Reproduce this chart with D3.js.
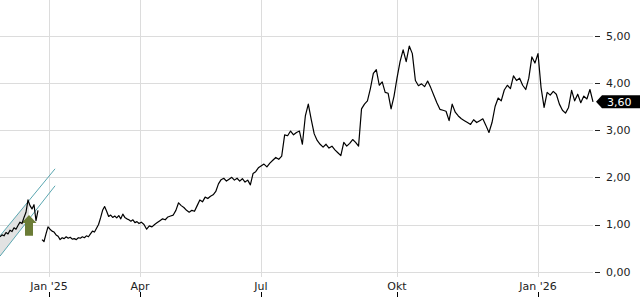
<!DOCTYPE html>
<html>
<head>
<meta charset="utf-8">
<script src="https://cdn.jsdelivr.net/npm/d3@7"></script>
<style>
  html, body { margin: 0; padding: 0; background: #fff; }
  svg { display: block; font-family: "DejaVu Sans", sans-serif; }
</style>
</head>
<body>
<div id="chart"></div>
<script>
// Price history, one quote every 2 days from 13 Nov 2024 (null = no quote)
const startDate = '2024-11-13';
const stepDays = 2;

const pricesLate2024 = [0.74, 0.78, 0.76, 0.83, 0.80, 0.88, 0.85, 0.93, 0.90, 0.98,
  1.05, 1.02, 1.15, 1.26, 1.52, 1.40, 1.33, 1.42, 1.08, 1.30,
  null, 0.68, 0.64, 0.80, 0.95];
const pricesQ1 = [0.90, 0.86, 0.84, 0.78, 0.75, 0.68, 0.72, 0.70, 0.74, 0.71,
  0.73, 0.69, 0.70, 0.68, 0.72, 0.71, 0.74, 0.72, 0.76, 0.74,
  0.80, 0.86, 0.84, 0.92, 1.00, 1.14, 1.30, 1.38, 1.28, 1.17,
  1.20, 1.15, 1.18, 1.14, 1.19, 1.12, 1.22, 1.15, 1.12, 1.10,
  1.07, 1.10, 1.04, 1.06, 1.02];
const pricesQ2 = [1.05, 1.00, 0.90, 0.97, 0.95, 1.00, 1.04, 1.08, 1.12, 1.10,
  1.16, 1.18, 1.20, 1.30, 1.46, 1.40, 1.36, 1.30, 1.26, 1.30,
  1.28, 1.40, 1.52, 1.48, 1.58, 1.55, 1.60, 1.63, 1.70, 1.86,
  1.95, 1.98, 1.92, 1.96, 2.00, 1.94, 1.98, 1.92, 1.97, 1.90,
  1.94, 1.84, 2.08, 2.12, 2.20];
const pricesQ3 = [2.24, 2.28, 2.22, 2.30, 2.36, 2.42, 2.38, 2.45, 2.90, 2.88,
  2.98, 2.90, 2.95, 2.98, 2.70, 3.30, 3.55, 3.22, 2.92, 2.78,
  2.70, 2.64, 2.70, 2.62, 2.66, 2.58, 2.52, 2.46, 2.74, 2.66,
  2.72, 2.80, 2.74, 2.66, 3.45, 3.55, 3.62, 3.88, 4.20, 4.28,
  3.95, 4.02, 3.80, 3.78, 3.45, 3.72];
const pricesQ4 = [4.10, 4.45, 4.70, 4.45, 4.78, 4.62, 4.05, 3.94, 3.98, 3.92,
  4.04, 3.90, 3.74, 3.58, 3.44, 3.42, 3.40, 3.20, 3.55, 3.38,
  3.30, 3.24, 3.20, 3.16, 3.12, 3.22, 3.16, 3.20, 3.24, 3.10,
  2.95, 3.16, 3.50, 3.68, 3.62, 3.85, 3.95, 3.88, 4.15, 4.05,
  4.10, 3.95, 3.86, 4.10, 4.55, 4.42];
const pricesEarly2026 = [4.62, 3.90, 3.48, 3.80, 3.74, 3.82, 3.76, 3.55, 3.42, 3.36,
  3.48, 3.84, 3.62, 3.76, 3.58, 3.72, 3.66, 3.86, 3.60];

const monthTicks = ['2025-01-01', '2025-04-01', '2025-07-01', '2025-10-01', '2026-01-01'];
const monthLabels = ["Jan '25", 'Apr', 'Jul', 'Okt', "Jan '26"];
const priceTicks = [0, 1, 2, 3, 4, 5];
const lastPrice = 3.60;

// trend channel drawn on the chart
const channelUpper = [['2024-11-13', 0.76], ['2025-01-07', 2.18]];
const channelLower = [['2024-11-13', 0.33], ['2025-01-07', 1.82]];
const channelFillEnd = '2024-12-12';
const signalDate = '2024-12-12';
const signalFrom = 0.76;
const signalTo = 1.20;

const width = 640;
const height = 300;
const plotRight = 593;

const parse = d3.utcParse('%Y-%m-%d');
const allPrices = [].concat(pricesLate2024, pricesQ1, pricesQ2, pricesQ3, pricesQ4, pricesEarly2026);
const series = allPrices.map((v, i) => ({
  date: d3.utcDay.offset(parse(startDate), i * stepDays),
  value: v
}));

// time axis is not evenly spaced in the source, so map each quarter separately
const x = d3.scaleUtc()
  .domain([parse(startDate), ...monthTicks.map(parse), series[series.length - 1].date])
  .range([0, 49, 140, 261, 397, 538, plotRight]);

const y = d3.scaleLinear().domain([0, 5]).range([271.7, 35.7]);

const de = d3.formatLocale({ decimal: ',', thousands: '.', grouping: [3], currency: ['', ' €'] });
const fmt = de.format('.2f');

const svg = d3.select('#chart').append('svg')
  .attr('width', width)
  .attr('height', height);

// grid
const grid = svg.append('g').attr('stroke', '#dcdcdc').attr('stroke-width', 1);
grid.selectAll('.hgrid')
  .data(priceTicks)
  .enter().append('line')
  .attr('x1', 0)
  .attr('x2', plotRight)
  .attr('y1', d => Math.round(y(d)) + 0.5)
  .attr('y2', d => Math.round(y(d)) + 0.5);
grid.selectAll('.vgrid')
  .data(monthTicks)
  .enter().append('line')
  .attr('x1', d => Math.round(x(parse(d))) + 0.5)
  .attr('x2', d => Math.round(x(parse(d))) + 0.5)
  .attr('y1', 0)
  .attr('y2', 277);

// channel
const chanUp = channelUpper.map(d => [parse(d[0]), d[1]]);
const chanLo = channelLower.map(d => [parse(d[0]), d[1]]);
const lerp = (pts, t) => {
  const k = (t - pts[0][0]) / (pts[1][0] - pts[0][0]);
  return pts[0][1] + k * (pts[1][1] - pts[0][1]);
};
const fillDates = [parse(startDate), parse(channelFillEnd)];
svg.append('path')
  .datum(fillDates)
  .attr('fill', '#e2e2e2')
  .attr('d', d3.area()
    .x(d => x(d))
    .y0(d => y(lerp(chanLo, d)))
    .y1(d => y(lerp(chanUp, d))));

svg.selectAll('.channel')
  .data([chanUp, chanLo])
  .enter().append('path')
  .attr('fill', 'none')
  .attr('stroke', '#5aa6b0')
  .attr('stroke-width', 1)
  .attr('d', d3.line().x(d => x(d[0])).y(d => y(d[1])));

// buy signal arrow
const ax = x(parse(signalDate));
const aTop = y(signalTo);
const aBot = y(signalFrom);
const headH = 8;
svg.append('path')
  .attr('fill', '#6b7c36')
  .attr('d', `M${ax - 4},${aBot} L${ax - 4},${aTop + headH} L${ax - 7.5},${aTop + headH}
    L${ax},${aTop} L${ax + 7.5},${aTop + headH} L${ax + 4},${aTop + headH} L${ax + 4},${aBot} Z`);

// price line
svg.append('path')
  .datum(series)
  .attr('fill', 'none')
  .attr('stroke', '#000')
  .attr('stroke-width', 1.2)
  .attr('stroke-linejoin', 'round')
  .attr('d', d3.line()
    .defined(d => d.value != null)
    .x(d => x(d.date))
    .y(d => y(d.value)));

// right axis
const yAxis = svg.append('g').attr('fill', '#222').attr('font-size', 11);
yAxis.selectAll('.tick')
  .data(priceTicks)
  .enter().append('line')
  .attr('x1', 595)
  .attr('x2', 600)
  .attr('y1', d => Math.round(y(d)) + 0.5)
  .attr('y2', d => Math.round(y(d)) + 0.5)
  .attr('stroke', '#222');
yAxis.selectAll('text')
  .data(priceTicks)
  .enter().append('text')
  .attr('x', 606)
  .attr('y', d => y(d))
  .attr('dy', '0.36em')
  .text(d => fmt(d));

// bottom axis
const xAxis = svg.append('g').attr('fill', '#222').attr('font-size', 11);
xAxis.selectAll('text')
  .data(monthTicks)
  .enter().append('text')
  .attr('x', d => x(parse(d)))
  .attr('y', 290)
  .attr('text-anchor', 'middle')
  .text((d, i) => monthLabels[i]);
xAxis.selectAll('line')
  .data(monthTicks)
  .enter().append('line')
  .attr('x1', d => Math.round(x(parse(d))) + 0.5)
  .attr('x2', d => Math.round(x(parse(d))) + 0.5)
  .attr('y1', 292)
  .attr('y2', 297)
  .attr('stroke', '#000');

// last price marker
const ly = y(lastPrice);
svg.append('path')
  .attr('fill', '#000')
  .attr('d', `M596,${ly} L602,${ly - 6.5} L${width},${ly - 6.5} L${width},${ly + 6.5} L602,${ly + 6.5} Z`);
svg.append('text')
  .attr('x', 607)
  .attr('y', ly)
  .attr('dy', '0.36em')
  .attr('fill', '#fff')
  .attr('font-size', 11)
  .text(fmt(lastPrice));
</script>
</body>
</html>
